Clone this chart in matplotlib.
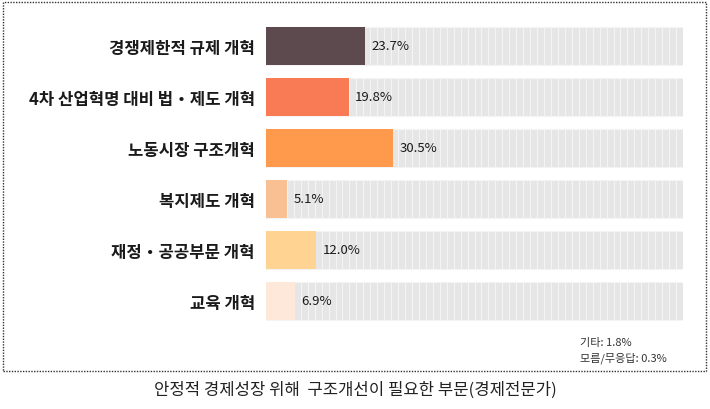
import numpy as np
import matplotlib.pyplot as plt
from matplotlib.patches import Rectangle

plt.rcParams['font.family'] = ['Noto Sans CJK KR', 'DejaVu Sans']

# data
categories = ['경쟁제한적 규제 개혁', '4차 산업혁명 대비 법・제도 개혁', '노동시장 구조개혁',
              '복지제도 개혁', '재정・공공부문 개혁', '교육 개혁']
values = [23.7, 19.8, 30.5, 5.1, 12.0, 6.9]
colors = ['#5c4a4f', '#f97b55', '#ff9a4d', '#f8c093', '#ffd391', '#fde8da']
note_labels = ['기타', '모름/무응답']
note_values = [1.8, 0.3]
caption = '안정적 경제성장 위해  구조개선이 필요한 부문(경제전문가)'

fig = plt.figure(figsize=(7.1, 4.1), dpi=100)
ax = fig.add_axes([266 / 710, 1 - 327.5 / 410, 417 / 710, 306 / 410])

y = np.arange(len(categories))
h = 0.74

# striped grey background bars up to 100%
nseg = 60
seg = 100 / nseg
for i in y:
    ax.barh([i] * nseg, [seg] * nseg, left=np.arange(nseg) * seg, height=h,
            color='#e6e6e6', edgecolor='#f4f4f4', linewidth=0.8)

ax.barh(y, values, height=h, color=colors, zorder=3)

for i, v in zip(y, values):
    ax.text(v + 1.6, i, f'{v:.1f}%', va='center', ha='left', fontsize=9.5,
            fontweight='medium', color='#1a1a1a', zorder=4)

ax.set_xlim(0, 100)
ax.set_ylim(len(categories) - 0.5, -0.5)
ax.set_yticks(y)
ax.set_yticklabels(categories, fontsize=12, fontweight='bold', color='#1a1a1a')
ax.tick_params(axis='y', length=0, pad=8)
ax.set_xticks([])
for s in ax.spines.values():
    s.set_visible(False)

# dotted frame
fig.patches.append(Rectangle((3 / 710, 1 - 372 / 410), 703 / 710, 369 / 410,
                             transform=fig.transFigure, fill=False,
                             linestyle=(0, (1, 1)), linewidth=1, edgecolor='#333333'))

for k, (lab, val) in enumerate(zip(note_labels, note_values)):
    fig.text(580 / 710, 1 - (343 + 15 * k) / 410, f'{lab}: {val}%', fontsize=8,
             color='#333333', va='center', ha='left')

fig.text(0.5, 1 - 390 / 410, caption, fontsize=12, ha='center', va='center',
         color='#222222')

fig.savefig('out.png', dpi=100)
